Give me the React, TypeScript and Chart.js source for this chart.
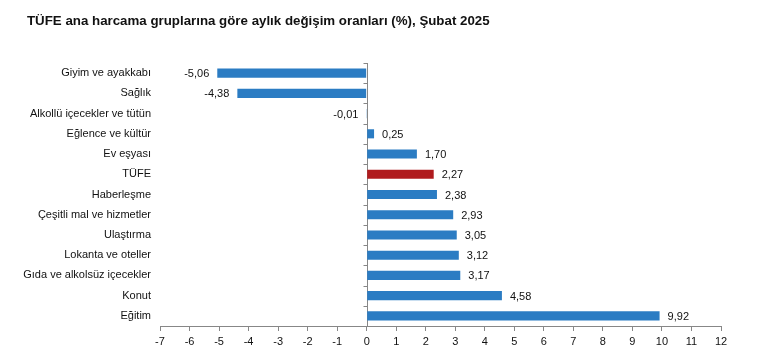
import React, { useEffect, useRef } from "react";
import { Chart, registerables } from "chart.js";

Chart.register(...registerables);

const TITLE = "TÜFE ana harcama gruplarına göre aylık değişim oranları (%), Şubat 2025";
const categories = [
  "Giyim ve ayakkabı",
  "Sağlık",
  "Alkollü içecekler ve tütün",
  "Eğlence ve kültür",
  "Ev eşyası",
  "TÜFE",
  "Haberleşme",
  "Çeşitli mal ve hizmetler",
  "Ulaştırma",
  "Lokanta ve oteller",
  "Gıda ve alkolsüz içecekler",
  "Konut",
  "Eğitim",
];
const values = [-5.06, -4.38, -0.01, 0.25, 1.7, 2.27, 2.38, 2.93, 3.05, 3.12, 3.17, 4.58, 9.92];
const highlightCategory = "TÜFE";
const xMin = -7;
const xMax = 12;

const FONT = '"Liberation Sans", Arial, sans-serif';
const BLUE = "#2b7cc3";
const RED = "#b01b1e";
const AXIS = "#878787";

const fmt = (v: number) => v.toFixed(2).replace(".", ",");

const overlayPlugin = {
  id: "overlay",
  beforeDatasetsDraw(chart: any) {
    const { ctx, scales, chartArea } = chart;
    const x = scales.x;
    const y = scales.y;
    const x0 = Math.round(x.getPixelForValue(0)) + 0.5;
    ctx.save();
    ctx.strokeStyle = AXIS;
    ctx.lineWidth = 1;
    ctx.beginPath();
    ctx.moveTo(x0, chartArea.top);
    ctx.lineTo(x0, chartArea.bottom);
    for (let i = 0; i < categories.length; i++) {
      const yy = Math.round(y.getPixelForValue(i - 0.5)) + 0.5;
      ctx.moveTo(x0 - 4, yy);
      ctx.lineTo(x0, yy);
    }
    ctx.stroke();
    ctx.restore();
  },
  afterDatasetsDraw(chart: any) {
    const { ctx } = chart;
    const meta = chart.getDatasetMeta(0);
    ctx.save();
    ctx.font = `11px ${FONT}`;
    ctx.fillStyle = "#111";
    ctx.textBaseline = "middle";
    meta.data.forEach((el: any, i: number) => {
      const v = values[i];
      const txt = fmt(v);
      if (v >= 0) {
        ctx.textAlign = "left";
        ctx.fillText(txt, el.x + 8, el.y + 1);
      } else {
        ctx.textAlign = "right";
        ctx.fillText(txt, el.x - 8, el.y + 1);
      }
    });
    ctx.restore();
  },
  afterDraw(chart: any) {
    const { ctx } = chart;
    ctx.save();
    ctx.font = `bold 13.3px ${FONT}`;
    ctx.fillStyle = "#111";
    ctx.textAlign = "left";
    ctx.textBaseline = "middle";
    ctx.fillText(TITLE, 27, 21);
    ctx.restore();
  },
};

export default function App() {
  const ref = useRef<HTMLCanvasElement | null>(null);

  useEffect(() => {
    document.body.style.margin = "0";
    if (!ref.current) return;
    const chart = new Chart(ref.current, {
      type: "bar",
      data: {
        labels: categories,
        datasets: [
          {
            data: values,
            backgroundColor: categories.map((c) => (c === highlightCategory ? RED : BLUE)),
            barPercentage: 0.45,
            categoryPercentage: 1,
          },
        ],
      },
      options: {
        indexAxis: "y",
        animation: false,
        responsive: true,
        maintainAspectRatio: false,
        layout: { padding: { left: 0, right: 39, top: 63, bottom: 0 } },
        plugins: {
          legend: { display: false },
          tooltip: { enabled: false },
          title: { display: false },
        },
        scales: {
          x: {
            type: "linear",
            min: xMin,
            max: xMax,
            ticks: {
              stepSize: 1,
              color: "#111",
              font: { family: FONT, size: 11 },
              padding: 4,
              callback: (v: any) => String(v),
            },
            grid: {
              display: true,
              drawOnChartArea: false,
              drawTicks: true,
              tickLength: 5,
              color: AXIS,
            },
            border: { display: true, color: AXIS },
            afterFit: (s: any) => {
              s.height = 28;
            },
          },
          y: {
            type: "category",
            ticks: {
              color: "#111",
              font: { family: FONT, size: 11 },
              padding: 9,
              autoSkip: false,
            },
            grid: { display: false, drawTicks: false },
            border: { display: false },
            afterFit: (s: any) => {
              s.width = 160;
            },
          },
        },
      },
      plugins: [overlayPlugin],
    } as any);
    return () => chart.destroy();
  }, []);

  return (
    <div style={{ position: "absolute", left: 0, top: 0, width: 760, height: 354 }}>
      <canvas ref={ref} />
    </div>
  );
}
